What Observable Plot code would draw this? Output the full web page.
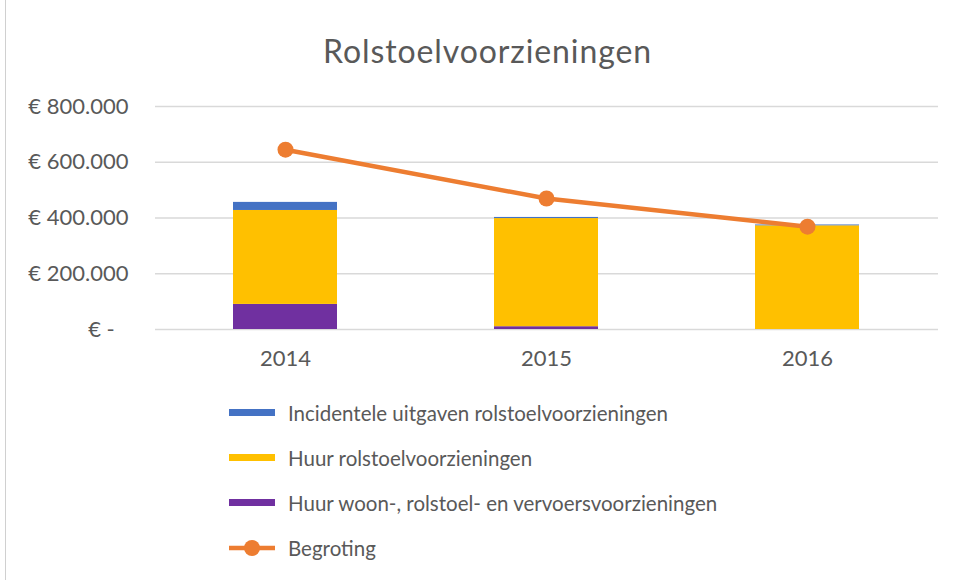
<!DOCTYPE html>
<html>
<head>
<meta charset="utf-8">
<script src="https://cdn.jsdelivr.net/npm/d3@7"></script>
<script src="https://cdn.jsdelivr.net/npm/@observablehq/plot@0.6"></script>
<style>
  body { margin: 0; background: #fff; font-family: Lato, "Open Sans", sans-serif; }
  #wrap { position: relative; width: 960px; height: 580px; overflow: hidden; }
  #border { position: absolute; left: 5px; top: 0; width: 1px; height: 580px; background: #d0d0d0; }
  #title { position: absolute; left: 0; width: 975px; top: 31px; text-align: center; font-size: 32px; letter-spacing: 0.9px; color: #595959; }
  #chart { position: absolute; left: 0; top: 85px; }
  #legend { position: absolute; left: 229px; top: 390px; color: #595959; font-size: 20.5px; }
  .row { display: flex; align-items: center; height: 45px; }
  .sw { width: 46px; height: 7px; margin-right: 13px; }
  .ln { width: 46px; height: 30px; margin-right: 13px; }
</style>
</head>
<body>
<div id="wrap">
  <div id="border"></div>
  <div id="title">Rolstoelvoorzieningen</div>
  <div id="chart"></div>
  <div id="legend"></div>
</div>
<script>
const years = ["2014", "2015", "2016"];
const seriesNames = [
  "Incidentele uitgaven rolstoelvoorzieningen",
  "Huur rolstoelvoorzieningen",
  "Huur woon-, rolstoel- en vervoersvoorzieningen"
];
const seriesColors = ["#4472C4", "#FFC000", "#7030A0"];
const incidenteel = [29000, 4000, 3000];
const huurRolstoel = [337000, 388000, 372000];
const huurWoon = [90000, 10000, 0];
const begroting = [645000, 470000, 369000];
const lineName = "Begroting";
const lineColor = "#ED7D31";
const yTicks = [0, 200000, 400000, 600000, 800000];

const stackOrder = [seriesNames[2], seriesNames[1], seriesNames[0]];
const barData = [];
years.forEach((y, i) => {
  barData.push({year: y, series: seriesNames[2], value: huurWoon[i]});
  barData.push({year: y, series: seriesNames[1], value: huurRolstoel[i]});
  barData.push({year: y, series: seriesNames[0], value: incidenteel[i]});
});
const lineData = years.map((y, i) => ({year: y, value: begroting[i]}));

const fmt = v => v === 0 ? "€ -\u2002\u2009" : "€ " + d3.format(",")(v).replace(/,/g, ".");

const chart = Plot.plot({
  width: 960,
  height: 295,
  marginTop: 21,
  marginBottom: 51,
  marginLeft: 155,
  marginRight: 22,
  style: { fontFamily: "Lato, 'Open Sans', sans-serif", color: "#595959", background: "transparent" },
  x: { domain: years, paddingInner: 0.6, paddingOuter: 0.3, label: null },
  y: { domain: [0, 800000], label: null },
  color: { domain: seriesNames, range: seriesColors },
  marks: [
    Plot.gridY(yTicks, { stroke: "#d9d9d9", strokeOpacity: 1, strokeWidth: 1.3 }),
    Plot.axisY({ ticks: yTicks, tickSize: 0, tickPadding: 27, tickFormat: fmt, fontSize: 22, fill: "#595959", label: null, style: "letter-spacing:1.4px" }),
    Plot.axisX({ tickSize: 0, tickPadding: 21, fontSize: 22, fill: "#595959", label: null }),
    Plot.barY(barData, Plot.stackY({ order: stackOrder }, { x: "year", y: "value", fill: "series" })),
    Plot.line(lineData, { x: "year", y: "value", stroke: lineColor, strokeWidth: 4.5 }),
    Plot.dot(lineData, { x: "year", y: "value", fill: lineColor, r: 8 })
  ]
});
document.getElementById("chart").appendChild(chart);

const legend = document.getElementById("legend");
seriesNames.forEach((n, i) => {
  const row = document.createElement("div");
  row.className = "row";
  row.innerHTML = `<div class="sw" style="background:${seriesColors[i]}"></div><span>${n}</span>`;
  legend.appendChild(row);
});
const row = document.createElement("div");
row.className = "row";
row.innerHTML = `<svg class="ln" width="46" height="30"><line x1="0" x2="46" y1="15" y2="15" stroke="${lineColor}" stroke-width="4.5"/><circle cx="23" cy="15" r="8" fill="${lineColor}"/></svg><span>${lineName}</span>`;
legend.appendChild(row);
</script>
</body>
</html>
